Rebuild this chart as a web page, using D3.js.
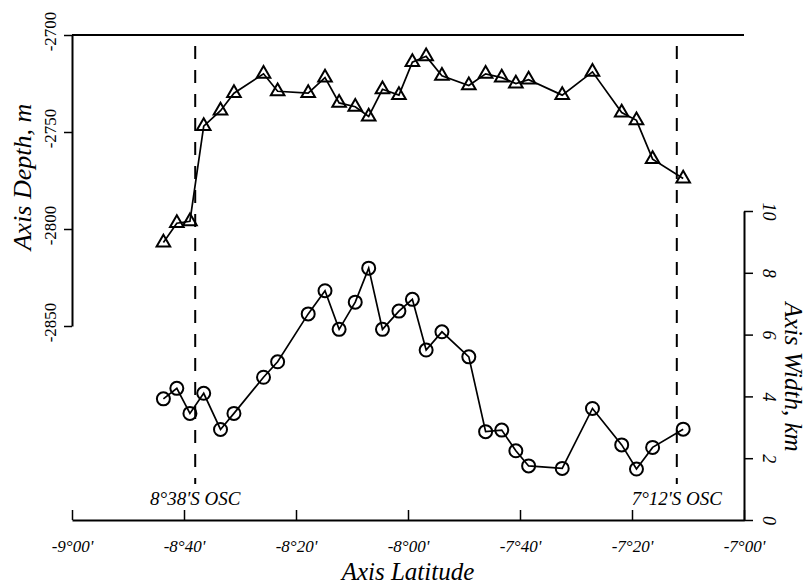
<!DOCTYPE html>
<html>
<head>
<meta charset="utf-8">
<script src="https://cdn.jsdelivr.net/npm/d3@7"></script>
<style>
  html, body { margin: 0; padding: 0; background: #fff; }
  svg { display: block; font-family: "Liberation Serif", "Times New Roman", serif; }
  .axis path, .axis line { stroke: #000; }
</style>
</head>
<body>
<svg id="chart" width="807" height="584"></svg>
<script>
// Along-axis samples: latitude (decimal degrees), axial depth (m), axial width (km)
const latitude = [-8.728, -8.688, -8.649, -8.608, -8.558, -8.518, -8.430, -8.388,
  -8.297, -8.247, -8.205, -8.157, -8.117, -8.076, -8.027, -7.987, -7.946, -7.899,
  -7.819, -7.769, -7.721, -7.679, -7.641, -7.541, -7.451, -7.364, -7.320, -7.272, -7.181];
const depth = [-2807, -2797, -2796, -2747, -2739, -2730, -2720, -2729,
  -2730, -2722, -2735, -2737, -2742, -2728, -2731, -2714, -2711, -2721,
  -2726, -2720, -2722, -2725, -2723, -2731, -2719, -2740, -2744, -2764, -2774];
const width = [3.92, 4.26, 3.45, 4.10, 2.93, 3.45, 4.62, 5.12,
  6.67, 7.42, 6.17, 7.05, 8.15, 6.17, 6.76, 7.14, 5.50, 6.09,
  5.28, 2.86, 2.91, 2.24, 1.75, 1.67, 3.61, 2.43, 1.65, 2.35, 2.94];

// Overlapping spreading centres bounding the segment
const oscLat = [-8.6333, -7.2];
const oscLabels = ["8\u00B038'S OSC", "7\u00B012'S OSC"];

// Tick values and labels
const latTicks = [-9, -8 - 40 / 60, -8 - 20 / 60, -8, -7 - 40 / 60, -7 - 20 / 60, -7];
const latTickLabels = ["-9\u00B000'", "-8\u00B040'", "-8\u00B020'", "-8\u00B000'", "-7\u00B040'", "-7\u00B020'", "-7\u00B000'"];
const depthTicks = [-2700, -2750, -2800, -2850];
const depthTickLabels = ["-2700", "-2750", "-2800", "-2850"];
const widthTicks = [0, 2, 4, 6, 8, 10];
const widthTickLabels = ["0", "2", "4", "6", "8", "10"];

const svg = d3.select("#chart");

const x = d3.scaleLinear().domain([-9, -7]).range([72, 744]);
const yDepth = d3.scaleLinear().domain([-2850, -2700]).range([326, 35]);
const yWidth = d3.scaleLinear().domain([0, 10]).range([520, 211]);

// Top reference line at -2700 m
svg.append("line")
  .attr("x1", x(-9)).attr("x2", x(-7))
  .attr("y1", yDepth(-2700)).attr("y2", yDepth(-2700))
  .attr("stroke", "#000").attr("stroke-width", 2.2);

// Bottom latitude axis, ticks pointing inward
const gx = svg.append("g").attr("class", "axis")
  .attr("transform", `translate(0,${yWidth(0)})`)
  .call(d3.axisBottom(x).tickValues(latTicks)
    .tickFormat((d, i) => latTickLabels[i])
    .tickSizeInner(-10).tickSizeOuter(0));
gx.select(".domain").attr("stroke-width", 2);
gx.selectAll(".tick line").attr("stroke-width", 1.5);
gx.selectAll(".tick text")
  .attr("y", 32).attr("dy", null)
  .attr("font-size", 17).attr("font-style", "italic").attr("fill", "#000")
  .attr("font-family", "Liberation Serif, serif");

svg.append("text")
  .attr("x", 408).attr("y", 580)
  .attr("text-anchor", "middle")
  .attr("font-size", 25).attr("font-style", "italic")
  .text("Axis Latitude");

// Left depth axis
const gl = svg.append("g").attr("class", "axis")
  .attr("transform", `translate(${x(-9)},0)`)
  .call(d3.axisLeft(yDepth).tickValues(depthTicks)
    .tickFormat((d, i) => depthTickLabels[i])
    .tickSizeInner(8).tickSizeOuter(0));
gl.select(".domain").attr("stroke-width", 2);
gl.selectAll(".tick line").attr("stroke-width", 1.5);
gl.selectAll(".tick text")
  .attr("x", null).attr("dy", null).attr("y", null)
  .attr("transform", "translate(-16,-4) rotate(-90)")
  .attr("text-anchor", "middle")
  .attr("font-size", 17).attr("fill", "#000")
  .attr("font-family", "Liberation Serif, serif");

svg.append("text")
  .attr("transform", "translate(31,177) rotate(-90)")
  .attr("text-anchor", "middle")
  .attr("font-size", 26).attr("font-style", "italic")
  .text("Axis Depth, m");

// Right width axis
const gr = svg.append("g").attr("class", "axis")
  .attr("transform", `translate(${x(-7)},0)`)
  .call(d3.axisRight(yWidth).tickValues(widthTicks)
    .tickFormat((d, i) => widthTickLabels[i])
    .tickSizeInner(9).tickSizeOuter(0));
gr.select(".domain").attr("stroke-width", 2);
gr.selectAll(".tick line").attr("stroke-width", 1.5);
gr.selectAll(".tick text")
  .attr("x", null).attr("dy", null).attr("y", null)
  .attr("transform", "translate(19,0) rotate(90)")
  .attr("text-anchor", "middle")
  .attr("font-size", 18).attr("font-style", "italic").attr("fill", "#000")
  .attr("font-family", "Liberation Serif, serif");

svg.append("text")
  .attr("transform", "translate(785,377) rotate(90)")
  .attr("text-anchor", "middle")
  .attr("font-size", 25).attr("font-style", "italic")
  .text("Axis Width, km");

// OSC markers
oscLat.forEach((lat, i) => {
  svg.append("line")
    .attr("x1", x(lat)).attr("x2", x(lat))
    .attr("y1", 46).attr("y2", 484)
    .attr("stroke", "#000").attr("stroke-width", 2)
    .attr("stroke-dasharray", "13,11");
  svg.append("text")
    .attr("x", x(lat)).attr("y", 505)
    .attr("text-anchor", "middle")
    .attr("font-size", 19).attr("font-style", "italic")
    .text(oscLabels[i]);
});

const pts = latitude.map((lat, i) => ({ lat, depth: depth[i], width: width[i] }));

// Depth profile with triangles
svg.append("path")
  .datum(pts)
  .attr("fill", "none").attr("stroke", "#000").attr("stroke-width", 1.7)
  .attr("d", d3.line().x(d => x(d.lat)).y(d => yDepth(d.depth)));

const tri = d3.symbol().type(d3.symbolTriangle).size(80);
svg.append("g").selectAll("path")
  .data(pts).join("path")
  .attr("transform", d => `translate(${x(d.lat)},${yDepth(d.depth)})`)
  .attr("d", tri)
  .attr("fill", "none").attr("stroke", "#000").attr("stroke-width", 2);

// Width profile with circles
svg.append("path")
  .datum(pts)
  .attr("fill", "none").attr("stroke", "#000").attr("stroke-width", 1.7)
  .attr("d", d3.line().x(d => x(d.lat)).y(d => yWidth(d.width)));

svg.append("g").selectAll("circle")
  .data(pts).join("circle")
  .attr("cx", d => x(d.lat)).attr("cy", d => yWidth(d.width))
  .attr("r", 6.5)
  .attr("fill", "none").attr("stroke", "#000").attr("stroke-width", 2);
</script>
</body>
</html>
